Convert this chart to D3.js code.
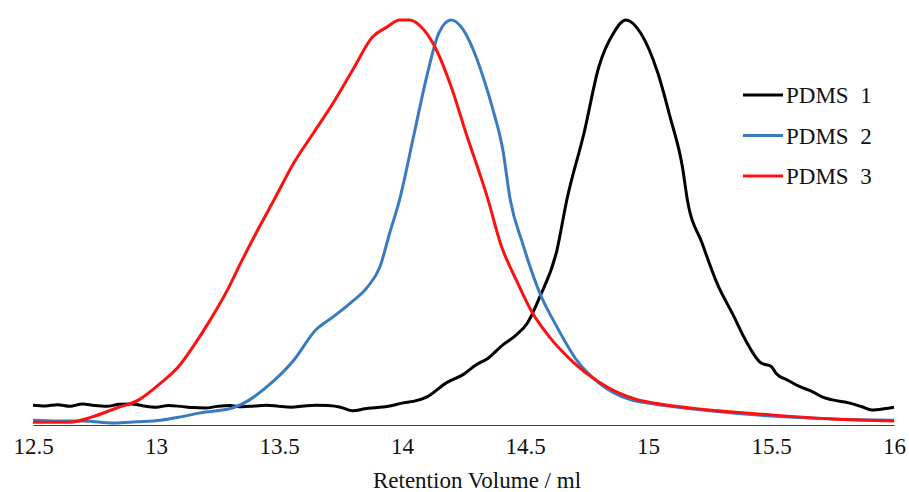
<!DOCTYPE html>
<html>
<head>
<meta charset="utf-8">
<script src="https://cdn.jsdelivr.net/npm/d3@7"></script>
<style>
  html, body { margin: 0; padding: 0; background: #fff; }
  svg { display: block; }
  svg text { font-family: "Liberation Serif", "DejaVu Serif", "Times New Roman", Times, serif; }
</style>
</head>
<body>
<svg id="chart" width="909" height="492"></svg>
<script>
// ---- Data (retention volume in ml, normalised detector signal) ----
const xTicks = [12.5, 13, 13.5, 14, 14.5, 15, 15.5, 16];
const seriesNames = ["PDMS  1", "PDMS  2", "PDMS  3"];

const pdms1X = [12.5, 12.55, 12.6, 12.65, 12.7, 12.75, 12.8, 12.85, 12.9, 12.95, 13.0, 13.05, 13.1, 13.15, 13.2, 13.25, 13.3, 13.35, 13.4, 13.45, 13.5, 13.55, 13.6, 13.65, 13.7, 13.75, 13.8, 13.85, 13.9, 13.95, 14.0, 14.05, 14.1, 14.18, 14.25, 14.3, 14.35, 14.41, 14.46, 14.51, 14.56, 14.63, 14.67, 14.74, 14.8, 14.86, 14.91, 14.97, 15.04, 15.09, 15.14, 15.16, 15.22, 15.28, 15.35, 15.39, 15.46, 15.5, 15.52, 15.57, 15.62, 15.67, 15.71, 15.75, 15.82, 15.87, 15.91, 15.96, 16.0];
const pdms1Y = [0.049, 0.047, 0.050, 0.046, 0.052, 0.048, 0.046, 0.051, 0.052, 0.047, 0.044, 0.048, 0.046, 0.043, 0.042, 0.046, 0.048, 0.045, 0.047, 0.049, 0.046, 0.044, 0.047, 0.049, 0.048, 0.044, 0.035, 0.040, 0.043, 0.047, 0.054, 0.059, 0.069, 0.104, 0.125, 0.148, 0.165, 0.198, 0.220, 0.252, 0.316, 0.432, 0.556, 0.721, 0.884, 0.968, 1.0, 0.968, 0.869, 0.760, 0.637, 0.556, 0.449, 0.351, 0.267, 0.217, 0.153, 0.145, 0.128, 0.110, 0.094, 0.082, 0.069, 0.062, 0.054, 0.045, 0.037, 0.040, 0.044];

const pdms2X = [12.5, 12.6, 12.7, 12.83, 12.92, 13.02, 13.1, 13.18, 13.31, 13.38, 13.45, 13.56, 13.65, 13.72, 13.79, 13.86, 13.91, 13.95, 13.99, 14.05, 14.1, 14.15, 14.2, 14.25, 14.29, 14.33, 14.37, 14.41, 14.44, 14.49, 14.56, 14.63, 14.71, 14.8, 14.93, 15.0, 15.25, 15.5, 15.75, 16.0];
const pdms2Y = [0.012, 0.010, 0.010, 0.005, 0.008, 0.012, 0.020, 0.030, 0.042, 0.062, 0.094, 0.160, 0.235, 0.267, 0.301, 0.341, 0.390, 0.474, 0.556, 0.721, 0.859, 0.968, 1.0, 0.975, 0.926, 0.859, 0.778, 0.679, 0.556, 0.449, 0.326, 0.242, 0.160, 0.104, 0.062, 0.054, 0.035, 0.022, 0.015, 0.012];

const pdms3X = [12.5, 12.65, 12.74, 12.84, 12.93, 13.02, 13.09, 13.15, 13.22, 13.29, 13.35, 13.42, 13.48, 13.56, 13.64, 13.72, 13.8, 13.88, 13.94, 13.99, 14.03, 14.09, 14.14, 14.2, 14.26, 14.35, 14.4, 14.47, 14.53, 14.6, 14.7, 14.8, 14.96, 15.0, 15.25, 15.5, 15.75, 16.0];
const pdms3Y = [0.007, 0.007, 0.020, 0.042, 0.062, 0.104, 0.143, 0.193, 0.259, 0.333, 0.407, 0.489, 0.556, 0.647, 0.721, 0.795, 0.877, 0.958, 0.983, 1.0, 1.0, 0.975, 0.926, 0.835, 0.721, 0.556, 0.449, 0.351, 0.277, 0.217, 0.153, 0.106, 0.062, 0.057, 0.037, 0.025, 0.015, 0.010];

const colors = ["#000000", "#3a7bc0", "#ff1010"];

// ---- Chart ----
const FONT = '"Liberation Serif", "DejaVu Serif", "Times New Roman", Times, serif';
const svg = d3.select("#chart");
const x = d3.scaleLinear().domain([12.5, 16]).range([33, 894]);
const y = d3.scaleLinear().domain([0, 1]).range([425, 20]);

const series = [
  {name: seriesNames[0], xs: pdms1X, ys: pdms1Y, color: colors[0]},
  {name: seriesNames[1], xs: pdms2X, ys: pdms2Y, color: colors[1]},
  {name: seriesNames[2], xs: pdms3X, ys: pdms3Y, color: colors[2]}
];

// x axis
const xAxis = d3.axisBottom(x).tickValues(xTicks).tickSize(0).tickPadding(13)
  .tickFormat(d3.format("~g"));
const gx = svg.append("g").attr("transform", `translate(0,${y(0)})`).call(xAxis);
gx.attr("font-family", null).attr("font-size", null);
gx.select(".domain").attr("stroke", "#444").attr("stroke-width", 1.2);
gx.selectAll("text")
  .style("font-family", FONT)
  .style("font-size", "23px").attr("fill", "#111");

svg.append("text")
  .attr("x", 477).attr("y", 488)
  .attr("text-anchor", "middle")
  .style("font-family", FONT)
  .style("font-size", "23px").attr("fill", "#111")
  .text("Retention Volume / ml");

const line = d3.line().curve(d3.curveMonotoneX)
  .x(d => x(d[0])).y(d => y(d[1]));

series.forEach(s => {
  const pts = s.xs.map((v, i) => [v, s.ys[i]]);
  svg.append("path").datum(pts)
    .attr("fill", "none").attr("stroke", s.color)
    .attr("stroke-width", 3).attr("stroke-linejoin", "round")
    .attr("d", line);
});

// legend
const lg = svg.append("g");
series.forEach((s, i) => {
  const yy = 95 + i * 40.5;
  lg.append("line").attr("x1", 743).attr("x2", 783).attr("y1", yy).attr("y2", yy)
    .attr("stroke", s.color).attr("stroke-width", 3);
  lg.append("text").attr("x", 786).attr("y", yy + 8)
    .style("font-family", FONT)
    .style("font-size", "23px").attr("fill", "#111")
    .style("white-space", "pre")
    .text(s.name);
});
</script>
</body>
</html>
